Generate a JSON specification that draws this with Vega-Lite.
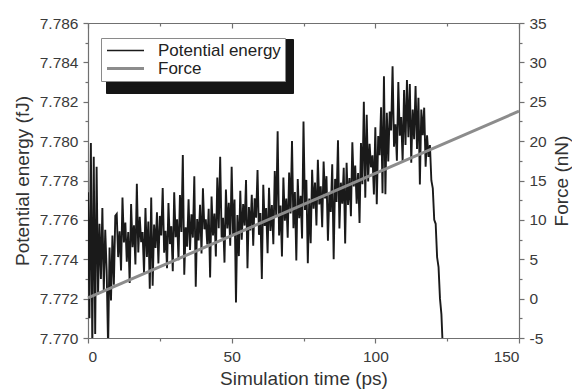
{
 "$schema": "https://vega.github.io/schema/vega-lite/v6.json",
 "width": 431,
 "height": 315,
 "autosize": {"type": "none"},
 "padding": {"left": 88, "top": 23, "right": 53, "bottom": 51},
 "background": "white",
 "config": {
  "font": "Liberation Sans",
  "view": {"stroke": null},
  "axis": {
   "grid": false,
   "domainColor": "#707070",
   "domainWidth": 1.2,
   "tickColor": "#707070",
   "tickWidth": 1.2,
   "labelColor": "#3a3a3a",
   "labelFont": "Liberation Sans",
   "labelFontSize": 15.5,
   "labelPadding": 5,
   "titleFont": "Liberation Sans",
   "titleFontSize": 19,
   "titleFontWeight": "normal",
   "titleColor": "#333333"
  },
  "legend": {
   "labelFont": "Liberation Sans",
   "labelFontSize": 17,
   "symbolType": "stroke",
   "symbolSize": 1369,
   "padding": 4,
   "rowPadding": 0,
   "labelOffset": 24,
   "symbolOffset": 12
  }
 },
 "layer": [
  {
   "data": {"values": [
    {"t":0,"e":7.7774},{"t":0.5,"e":7.771},{"t":1,"e":7.7799},{"t":1.5,"e":7.7695},{"t":2,"e":7.7792},{"t":2.5,"e":7.7702},{"t":3,"e":7.7787},{"t":3.5,"e":7.7722},{"t":4,"e":7.7758},{"t":4.5,"e":7.773},
    {"t":5,"e":7.7766},{"t":5.5,"e":7.7724},{"t":6,"e":7.7755},{"t":6.5,"e":7.7734},{"t":7,"e":7.7695},{"t":7.5,"e":7.7746},{"t":8,"e":7.7719},{"t":8.5,"e":7.7752},{"t":9,"e":7.7727},{"t":9.5,"e":7.7762},
    {"t":10,"e":7.7763},{"t":10.5,"e":7.77411},{"t":11,"e":7.77542},{"t":11.5,"e":7.77343},{"t":12,"e":7.77714},{"t":12.5,"e":7.77485},{"t":13,"e":7.77586},{"t":13.5,"e":7.77387},{"t":14,"e":7.77538},{"t":14.5,"e":7.77279},
    {"t":15,"e":7.7768},{"t":15.5,"e":7.77461},{"t":16,"e":7.77572},{"t":16.5,"e":7.77373},{"t":17,"e":7.77784},{"t":17.5,"e":7.77435},{"t":18,"e":7.77616},{"t":18.5,"e":7.77487},{"t":19,"e":7.77538},{"t":19.5,"e":7.77329},
    {"t":20,"e":7.7766},{"t":20.5,"e":7.77411},{"t":21,"e":7.77592},{"t":21.5,"e":7.7725},{"t":22,"e":7.77714},{"t":22.5,"e":7.77265},{"t":23,"e":7.77576},{"t":23.5,"e":7.77457},{"t":24,"e":7.77638},{"t":24.5,"e":7.77379},
    {"t":25,"e":7.7762},{"t":25.5,"e":7.77521},{"t":26,"e":7.77762},{"t":26.5,"e":7.77433},{"t":27,"e":7.77544},{"t":27.5,"e":7.77355},{"t":28,"e":7.77686},{"t":28.5,"e":7.77477},{"t":29,"e":7.77568},{"t":29.5,"e":7.77339},
    {"t":30,"e":7.7774},{"t":30.5,"e":7.77512},{"t":31,"e":7.77603},{"t":31.5,"e":7.77395},{"t":32,"e":7.77726},{"t":32.5,"e":7.77538},{"t":33,"e":7.7793},{"t":33.5,"e":7.77321},{"t":34,"e":7.77562},{"t":34.5,"e":7.77464},
    {"t":35,"e":7.77705},{"t":35.5,"e":7.77447},{"t":36,"e":7.77628},{"t":36.5,"e":7.7751},{"t":37,"e":7.77821},{"t":37.5,"e":7.7726},{"t":38,"e":7.77604},{"t":38.5,"e":7.77496},{"t":39,"e":7.77677},{"t":39.5,"e":7.77429},
    {"t":40,"e":7.7776},{"t":40.5,"e":7.77552},{"t":41,"e":7.77603},{"t":41.5,"e":7.77475},{"t":42,"e":7.77656},{"t":42.5,"e":7.77308},{"t":43,"e":7.77719},{"t":43.5,"e":7.77521},{"t":44,"e":7.77632},{"t":44.5,"e":7.77414},
    {"t":45,"e":7.77815},{"t":45.5,"e":7.77557},{"t":46,"e":7.7792},{"t":46.5,"e":7.7751},{"t":47,"e":7.77611},{"t":47.5,"e":7.77383},{"t":48,"e":7.77754},{"t":48.5,"e":7.77556},{"t":49,"e":7.77687},{"t":49.5,"e":7.77469},
    {"t":50,"e":7.7787},{"t":50.5,"e":7.77521},{"t":51,"e":7.77703},{"t":51.5,"e":7.7718},{"t":52,"e":7.77625},{"t":52.5,"e":7.77416},{"t":53,"e":7.77748},{"t":53.5,"e":7.77499},{"t":54,"e":7.7768},{"t":54.5,"e":7.77571},
    {"t":55,"e":7.77803},{"t":55.5,"e":7.77354},{"t":56,"e":7.77665},{"t":56.5,"e":7.77546},{"t":57,"e":7.77728},{"t":57.5,"e":7.77469},{"t":58,"e":7.7771},{"t":58.5,"e":7.77611},{"t":59,"e":7.77853},{"t":59.5,"e":7.77524},
    {"t":60,"e":7.77635},{"t":60.5,"e":7.773},{"t":61,"e":7.77778},{"t":61.5,"e":7.77569},{"t":62,"e":7.7766},{"t":62.5,"e":7.77431},{"t":63,"e":7.77763},{"t":63.5,"e":7.77544},{"t":64,"e":7.77675},{"t":64.5,"e":7.77476},
    {"t":65,"e":7.77848},{"t":65.5,"e":7.77619},{"t":66,"e":7.7805},{"t":66.5,"e":7.77521},{"t":67,"e":7.77673},{"t":67.5,"e":7.77414},{"t":68,"e":7.77815},{"t":68.5,"e":7.77596},{"t":69,"e":7.77708},{"t":69.5,"e":7.77509},
    {"t":70,"e":7.7784},{"t":70.5,"e":7.77633},{"t":71,"e":7.78},{"t":71.5,"e":7.77558},{"t":72,"e":7.77741},{"t":72.5,"e":7.77394},{"t":73,"e":7.77807},{"t":73.5,"e":7.77609},{"t":74,"e":7.77722},{"t":74.5,"e":7.77505},
    {"t":75,"e":7.781},{"t":75.5,"e":7.7765},{"t":76,"e":7.77803},{"t":76.5,"e":7.7738},{"t":77,"e":7.77709},{"t":77.5,"e":7.77481},{"t":78,"e":7.77854},{"t":78.5,"e":7.77657},{"t":79,"e":7.7779},{"t":79.5,"e":7.77572},
    {"t":80,"e":7.77905},{"t":80.5,"e":7.77678},{"t":81,"e":7.77771},{"t":81.5,"e":7.77563},{"t":82,"e":7.77896},{"t":82.5,"e":7.77709},{"t":83,"e":7.77822},{"t":83.5,"e":7.77494},{"t":84,"e":7.77737},{"t":84.5,"e":7.7764},
    {"t":85,"e":7.77883},{"t":85.5,"e":7.774},{"t":86,"e":7.77808},{"t":86.5,"e":7.77691},{"t":87,"e":7.78004},{"t":87.5,"e":7.77556},{"t":88,"e":7.77789},{"t":88.5,"e":7.77682},{"t":89,"e":7.77865},{"t":89.5,"e":7.7748},
    {"t":90,"e":7.7789},{"t":90.5,"e":7.77676},{"t":91,"e":7.77812},{"t":91.5,"e":7.77618},{"t":92,"e":7.77994},{"t":92.5,"e":7.7777},{"t":93,"e":7.77876},{"t":93.5,"e":7.77682},{"t":94,"e":7.77838},{"t":94.5,"e":7.77584},
    {"t":95,"e":7.7799},{"t":95.5,"e":7.77781},{"t":96,"e":7.782},{"t":96.5,"e":7.77713},{"t":97,"e":7.78134},{"t":97.5,"e":7.77795},{"t":98,"e":7.77986},{"t":98.5,"e":7.77867},{"t":99,"e":7.77928},{"t":99.5,"e":7.77729},
    {"t":100,"e":7.7807},{"t":100.5,"e":7.7768},{"t":101,"e":7.78026},{"t":101.5,"e":7.77929},{"t":102,"e":7.78172},{"t":102.5,"e":7.77735},{"t":103,"e":7.7833},{"t":103.5,"e":7.7773},{"t":104,"e":7.78144},{"t":104.5,"e":7.77897},
    {"t":105,"e":7.7815},{"t":105.5,"e":7.78054},{"t":106,"e":7.7838},{"t":106.5,"e":7.77972},{"t":107,"e":7.78086},{"t":107.5,"e":7.779},{"t":108,"e":7.783},{"t":108.5,"e":7.78028},{"t":109,"e":7.78122},{"t":109.5,"e":7.77896},
    {"t":110,"e":7.7826},{"t":110.5,"e":7.7798},{"t":111,"e":7.7831},{"t":111.5,"e":7.7802},{"t":112,"e":7.7829},{"t":112.5,"e":7.7789},{"t":113,"e":7.7816},{"t":113.5,"e":7.7801},{"t":114,"e":7.7828},{"t":114.5,"e":7.7796},
    {"t":115,"e":7.7822},{"t":115.5,"e":7.7778},{"t":116,"e":7.7816},{"t":116.5,"e":7.7803},{"t":117,"e":7.7817},{"t":117.5,"e":7.7787},{"t":118,"e":7.7803},{"t":118.5,"e":7.7792},{"t":119,"e":7.7798},{"t":119.5,"e":7.778},
    {"t":120,"e":7.7776},{"t":120.5,"e":7.776},{"t":121,"e":7.7758},{"t":121.5,"e":7.7741},{"t":122,"e":7.7736},{"t":122.5,"e":7.772},{"t":123,"e":7.7712},{"t":123.5,"e":7.7694}
   ]},
   "mark": {"type": "line", "clip": true, "strokeWidth": 1.9},
   "encoding": {
    "x": {
     "field": "t", "type": "quantitative",
     "scale": {"domain": [0, 150], "nice": false},
     "axis": {
      "orient": "bottom",
      "values": [0, 25, 50, 75, 100, 125, 150],
      "labelExpr": "datum.value % 50 == 0 ? datum.label : ''",
      "tickSize": {"condition": {"test": "datum.value % 50 == 0", "value": 5}, "value": 3},
      "labelPadding": 6,
      "title": "Simulation time (ps)",
      "titlePadding": 5
     }
    },
    "y": {
     "field": "e", "type": "quantitative",
     "scale": {"domain": [7.770, 7.786], "nice": false, "zero": false},
     "axis": {
      "orient": "left",
      "values": [7.770, 7.771, 7.772, 7.773, 7.774, 7.775, 7.776, 7.777, 7.778, 7.779, 7.780, 7.781, 7.782, 7.783, 7.784, 7.785, 7.786],
      "labelExpr": "round(datum.value*1000) % 2 == 0 ? format(datum.value, '.3f') : ''",
      "tickSize": {"condition": {"test": "round(datum.value*1000) % 2 == 0", "value": 5}, "value": 3},
      "title": "Potential energy (fJ)",
      "titlePadding": 7
     }
    },
    "color": {
     "datum": "Potential energy", "type": "nominal",
     "scale": {"domain": ["Potential energy", "Force"], "range": ["#1a1a1a", "#8c8c8c"]},
     "legend": {
      "title": null,
      "orient": "none",
      "legendX": 13,
      "legendY": 15,
      "symbolType": "stroke",
      "symbolSize": 1369,
      "padding": 4,
      "rowPadding": 0,
      "labelOffset": 24,
      "symbolOffset": 12,
      "labelFontSize": 17,
      "fillColor": "#ffffff",
      "labelColor": "#222222",
      "labelExpr": "datum.label + '\u00a0'",
      "zindex": 2,
      "encode": {
       "legend": {"update": {"stroke": {"value": "#8a8a8a"}, "strokeWidth": {"value": 1}}},
       "symbols": {"update": {"strokeWidth": {"signal": "datum.value === 'Force' ? 3 : 1.5"}}}
      }
     }
    },
    "opacity": {
     "datum": "Potential energy", "type": "nominal",
     "scale": {"type": "point", "domain": ["Force", "Potential energy"], "range": [1, 1], "padding": 0},
     "legend": {
      "title": null,
      "orient": "none",
      "legendX": 18,
      "legendY": 16,
      "symbolType": "stroke",
      "symbolSize": 1369,
      "padding": 4,
      "rowPadding": 0,
      "labelOffset": 113,
      "symbolOffset": 12,
      "labelFontSize": 2,
      "fillColor": "#151515",
      "labelColor": "#151515",
      "symbolStrokeColor": "#151515",
      "labelExpr": "datum.label + '\u00a0'",
      "zindex": 1,
      "encode": {
       "legend": {"update": {"stroke": {"value": "#151515"}, "strokeWidth": {"value": 1}}},
       "symbols": {"update": {"stroke": {"value": "#151515"}}}
      }
     }
    }
   }
  },
  {
   "data": {"values": [{"t": 0, "f": 0.1}, {"t": 150, "f": 23.8}]},
   "mark": {"type": "line", "strokeWidth": 3},
   "encoding": {
    "x": {
     "field": "t", "type": "quantitative",
     "axis": {
      "orient": "top",
      "values": [0, 25, 50, 75, 100, 125, 150],
      "labels": false,
      "title": null,
      "tickSize": {"condition": {"test": "datum.value % 50 == 0", "value": -5}, "value": -3}
     }
    },
    "y": {
     "field": "f", "type": "quantitative",
     "scale": {"domain": [-5, 35], "nice": false},
     "axis": {
      "orient": "right",
      "values": [-5, -2.5, 0, 2.5, 5, 7.5, 10, 12.5, 15, 17.5, 20, 22.5, 25, 27.5, 30, 32.5, 35],
      "labelExpr": "datum.value % 5 == 0 ? datum.value + '' : ''",
      "tickSize": {"condition": {"test": "datum.value % 5 == 0", "value": 5}, "value": 3},
      "title": "Force (nN)",
      "titleAngle": 270,
      "titleBaseline": "top",
      "titlePadding": 6
     }
    },
    "color": {"datum": "Force", "type": "nominal"},
    "opacity": {"datum": "Force", "type": "nominal"}
   }
  }
 ],
 "resolve": {"scale": {"y": "independent"}, "axis": {"x": "independent"}}
}
